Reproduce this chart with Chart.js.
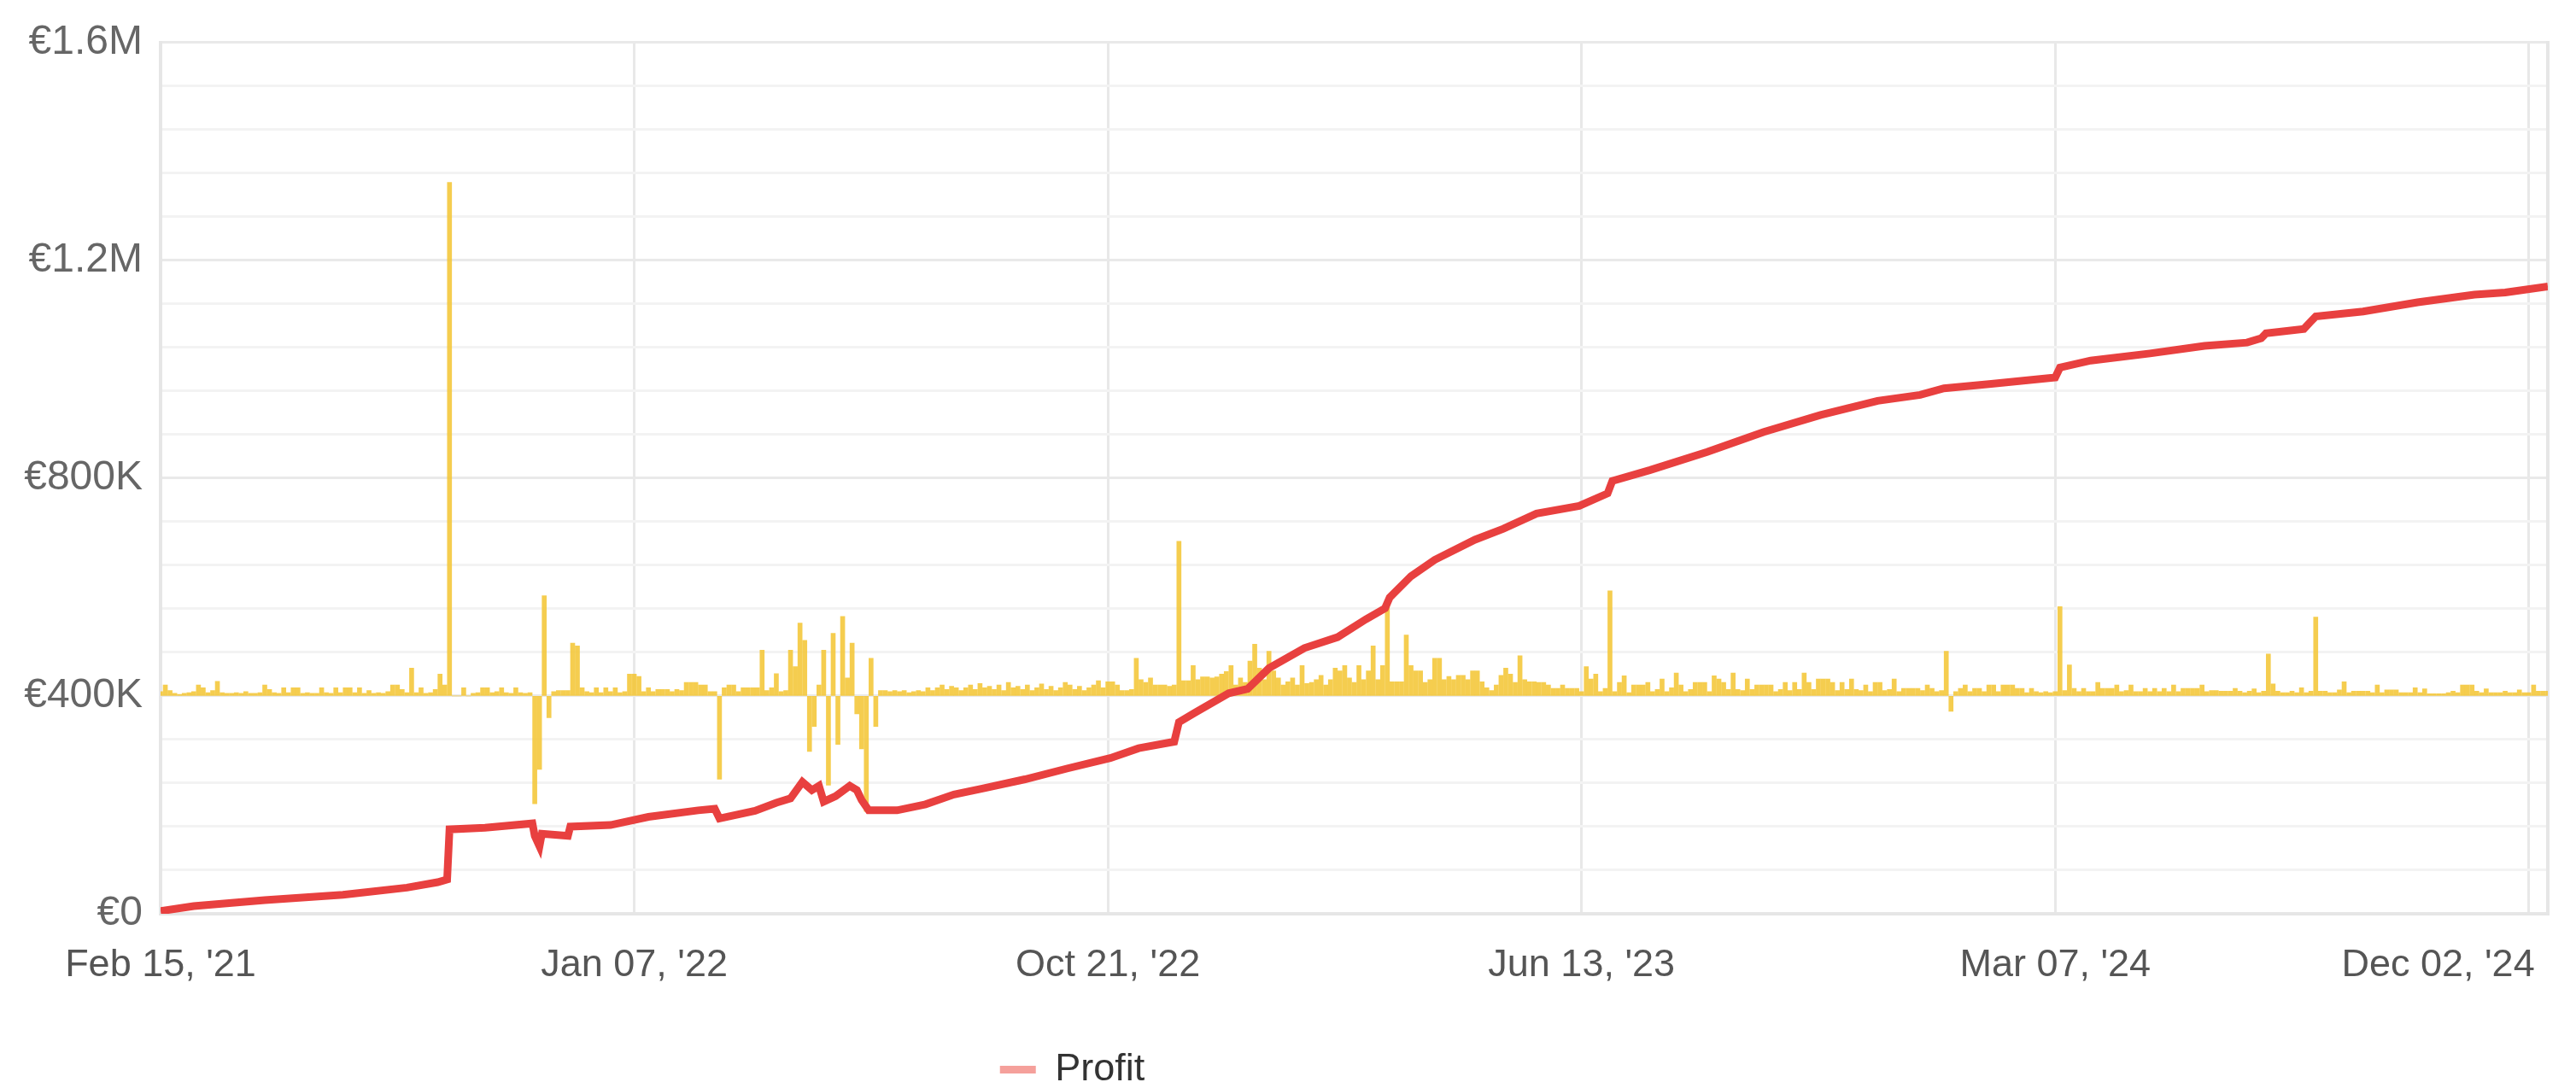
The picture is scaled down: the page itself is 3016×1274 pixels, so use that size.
<!DOCTYPE html>
<html>
<head>
<meta charset="utf-8">
<script src="https://cdn.jsdelivr.net/npm/chart.js@4.4.1/dist/chart.umd.min.js"></script>
<style>
  html, body { margin: 0; padding: 0; background: #fff; }
</style>
</head>
<body>
<canvas id="Chart" width="3016" height="1274"></canvas>
<script>
// x axis: trading-day index, labelled every 200 days
let tickIdx = [0, 200, 400, 600, 800, 1000];
let tickLabels = ["Feb 15, '21", "Jan 07, '22", "Oct 21, '22", "Jun 13, '23", "Mar 07, '24", "Dec 02, '24"];
let yTickLabels = ['€0', '€400K', '€800K', '€1.2M', '€1.6M'];

// cumulative profit (K€), read at these day indices
let profitIdx = [0, 14, 44, 77, 104, 117, 121, 122, 137, 157,
  158, 160, 161, 172, 173, 190, 206, 227, 234, 236,
  251, 260, 266, 271, 275, 278, 280, 285, 291, 294,
  296, 299, 311, 323, 335, 347, 365, 383, 401, 413,
  428, 430, 437, 451, 459, 468, 483, 497, 509, 517,
  519, 528, 538, 555, 567, 581, 599, 611, 613, 629,
  653, 677, 701, 725, 743, 753, 773, 800, 802, 815,
  840, 863, 881, 887, 889, 905, 908, 910, 930, 953,
  977, 990, 1008];
let profitVal = [5, 14, 25, 35, 48, 58, 63, 155, 158, 166,
  143, 124, 147, 143, 160, 163, 178, 190, 193, 175,
  189, 204, 212, 242, 227, 235, 206, 216, 235, 227,
  209, 190, 190, 201, 219, 230, 247, 267, 286, 304,
  316, 352, 370, 405, 413, 451, 488, 508, 541, 561,
  581, 620, 650, 687, 707, 735, 749, 772, 795, 815,
  848, 885, 916, 942, 953, 965, 973, 985, 1003, 1016,
  1029, 1043, 1049, 1057, 1066, 1074, 1088, 1097, 1106, 1123,
  1137, 1141, 1152];

// daily result (K€), one bar every 2 days, drawn from the 400K line
let dailyVal = [
  8, 20, 10, 5, 3, 5, 6, 8, 20, 15, 6, 10, 27, 6, 5, 5, 6, 5, 8, 5, 5, 6, 20, 12, 6,
  5, 15, 6, 15, 15, 5, 6, 5, 5, 15, 6, 5, 15, 6, 15, 15, 6, 15, 5, 10, 5, 6, 5, 8, 20,
  20, 12, 6, 51, 6, 15, 5, 6, 12, 40, 20, 943, 0, 0, 15, 0, 5, 6, 15, 15, 6, 8, 15, 6, 5,
  15, 6, 5, 6, -198, -135, 184, -40, 8, 10, 10, 10, 97, 92, 15, 8, 6, 15, 6, 15, 8, 15, 6, 8, 40,
  40, 36, 8, 15, 8, 12, 12, 12, 8, 12, 10, 25, 25, 25, 20, 20, 8, 8, -153, 15, 20, 20, 8, 15, 15,
  15, 15, 84, 10, 15, 41, 8, 10, 84, 54, 134, 102, -102, -56, 20, 84, -164, 115, -89, 146, 33, 97, -33, -97, -212,
  69, -56, 10, 10, 8, 10, 8, 10, 6, 8, 10, 8, 15, 10, 15, 20, 12, 18, 15, 10, 15, 20, 12, 23, 15,
  18, 12, 20, 10, 25, 15, 18, 12, 20, 10, 15, 22, 12, 18, 10, 15, 25, 20, 12, 18, 10, 15, 20, 28, 15,
  26, 26, 20, 10, 10, 12, 69, 30, 25, 33, 20, 20, 20, 18, 20, 284, 28, 28, 56, 30, 35, 35, 33, 35, 40,
  45, 56, 20, 33, 25, 64, 95, 51, 30, 82, 46, 33, 20, 26, 33, 20, 56, 23, 25, 30, 38, 20, 30, 51, 46,
  56, 33, 25, 56, 30, 46, 92, 30, 56, 169, 26, 26, 26, 112, 56, 46, 46, 25, 30, 69, 69, 30, 36, 30, 38,
  38, 30, 46, 46, 26, 15, 10, 20, 38, 51, 40, 25, 74, 30, 26, 26, 25, 25, 20, 14, 14, 20, 14, 14, 14,
  8, 54, 31, 40, 8, 14, 193, 8, 25, 37, 6, 20, 20, 20, 25, 8, 12, 31, 8, 15, 42, 20, 8, 12, 25,
  25, 25, 8, 37, 31, 25, 12, 42, 12, 10, 31, 12, 20, 20, 20, 20, 8, 12, 25, 10, 25, 12, 42, 25, 12,
  31, 31, 31, 25, 10, 25, 12, 31, 12, 10, 20, 8, 25, 25, 10, 12, 31, 8, 14, 14, 14, 14, 10, 20, 14,
  8, 10, 82, -28, 8, 14, 20, 8, 14, 14, 8, 20, 20, 8, 20, 20, 20, 14, 14, 6, 14, 8, 6, 8, 6,
  8, 164, 10, 57, 14, 8, 14, 8, 8, 25, 14, 14, 14, 20, 8, 10, 20, 8, 8, 14, 8, 14, 8, 14, 8,
  20, 8, 14, 14, 14, 14, 20, 8, 10, 10, 9, 9, 9, 14, 9, 6, 9, 13, 6, 9, 77, 22, 9, 6, 6,
  9, 6, 15, 6, 9, 145, 9, 9, 6, 6, 11, 26, 6, 9, 9, 9, 9, 6, 20, 6, 11, 11, 11, 6, 6,
  6, 15, 6, 13, 4, 4, 4, 4, 6, 9, 6, 20, 20, 20, 9, 6, 13, 6, 6, 6, 9, 6, 6, 11, 6,
  6, 20, 9, 9, 9
];

Chart.defaults.font.family = '"Liberation Sans", Arial, sans-serif';

// legend sits left of centre in the original
const legendShift = {
  id: 'legendShift',
  afterLayout(chart) {
    const lg = chart.legend;
    lg.left -= 236; lg.right -= 236;
    lg.top += 11; lg.bottom += 11;
  }
};

let lineCtx = document.getElementById('Chart');
let lineConfig = {
  type: 'line',
  data: {
    datasets: [{
      type: 'line',
      label: 'Profit',
      data: profitIdx.map((x, i) => ({ x: x, y: profitVal[i] * 1000 })),
      borderColor: '#e8403f',
      borderWidth: 9,
      pointRadius: 0,
      tension: 0,
      yAxisID: 'y',
      order: 0,
    }, {
      type: 'bar',
      label: 'Daily',
      data: dailyVal.map((v, i) => ({ x: i * 2, y: v * 1000 })),
      backgroundColor: 'rgba(243,196,48,0.85)',
      barThickness: 5,
      yAxisID: 'y2',
      order: 1,
    }],
  },
  options: {
    responsive: false,
    animation: false,
    layout: { padding: { top: 0, right: 33, bottom: 0, left: 0 } },
    plugins: {
      tooltip: { enabled: false },
      legend: {
        position: 'bottom',
        labels: {
          boxWidth: 42,
          boxHeight: 9,
          padding: 6,
          color: '#333',
          font: { size: 45 },
          generateLabels: (chart) => [{
            text: chart.data.datasets[0].label,
            fillStyle: '#f5a09b',
            strokeStyle: '#f5a09b',
            lineWidth: 0,
            datasetIndex: 0,
            fontColor: '#333',
          }],
        },
      },
    },
    scales: {
      x: {
        type: 'linear',
        min: 0,
        max: 1008,
        offset: false,
        afterBuildTicks: (axis) => { axis.ticks = tickIdx.map(v => ({ value: v })); },
        afterFit: (axis) => { axis.paddingLeft = 0; axis.paddingRight = 0; axis.height = 143; },
        grid: { color: '#e8e8e8', lineWidth: 3, drawTicks: false, offset: false },
        border: { color: '#e6e6e6', width: 4 },
        ticks: {
          autoSkip: false,
          maxRotation: 0,
          padding: 34,
          color: '#555',
          font: { size: 45 },
          callback: (v) => {
            const i = tickIdx.indexOf(v);
            if (i < 0) return '';
            // last label is pulled left so it stays inside the frame
            return i === tickIdx.length - 1 ? tickLabels[i] + ' '.repeat(17) : tickLabels[i];
          },
        },
      },
      y: {
        min: 0,
        max: 1600000,
        afterFit: (axis) => { axis.width = 188; },
        grid: {
          color: (c) => (c.tick && c.tick.value % 400000 === 0) ? '#e9e9e9' : '#f3f3f3',
          lineWidth: 3,
          drawTicks: false,
        },
        border: { color: '#e6e6e6', width: 4 },
        ticks: {
          stepSize: 80000,
          autoSkip: false,
          padding: 21,
          color: '#666',
          font: { size: 48 },
          callback: (v) => v % 400000 === 0 ? yTickLabels[v / 400000] : '',
        },
      },
      y2: {
        position: 'right',
        min: -400000,
        max: 1200000,
        afterFit: (axis) => { axis.width = 0; },
        grid: { drawOnChartArea: false, drawTicks: false },
        border: { color: '#e6e6e6', width: 4 },
        ticks: { display: false },
      },
    },
  },
  plugins: [legendShift],
};
let lineChart = new Chart(lineCtx, lineConfig);
</script>
</body>
</html>
